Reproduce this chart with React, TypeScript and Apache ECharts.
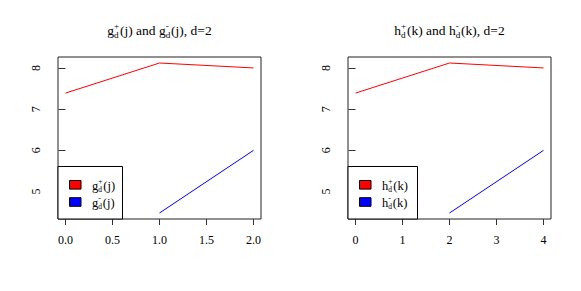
import React, { useEffect, useRef } from "react";
import * as echarts from "echarts";

// ---- data ----
const xJ = [0, 1, 2];
const xK = [0, 2, 4];
const plusVals = [7.39, 8.12, 8.0];
const minusVals: (number | null)[] = [null, 4.48, 6.0];
const xTicksJ = [0, 0.5, 1, 1.5, 2];
const xTicksK = [0, 1, 2, 3, 4];
const yTicks = [5, 6, 7, 8];

const RED = "#ff0000";
const BLUE = "#0000ff";
const FONT = "Liberation Serif";

type Seg = { t: string } | { sup: string; sub: string };

let ctx: CanvasRenderingContext2D | null = null;
function measure(text: string, size: number): number {
  if (!ctx) ctx = document.createElement("canvas").getContext("2d");
  if (!ctx) return text.length * size * 0.5;
  ctx.font = `${size}px ${FONT}`;
  return ctx.measureText(text).width;
}

function mathText(
  segs: Seg[],
  x: number,
  cy: number,
  size: number,
  center: boolean,
  supOff: number,
  subOff: number,
  scriptScale: number
): any[] {
  const ss = size * scriptScale;
  const widths = segs.map((s) =>
    "t" in s ? measure(s.t, size) : Math.max(measure(s.sup, ss), measure(s.sub, ss)) + 0.8
  );
  const total = widths.reduce((a, b) => a + b, 0);
  let cx = center ? x - total / 2 : x;
  const els: any[] = [];
  const mk = (text: string, px: number, py: number, sz: number) => ({
    type: "text",
    silent: true,
    style: {
      text,
      x: px,
      y: py,
      fontFamily: FONT,
      fontSize: sz,
      fill: "#000",
      textAlign: "left",
      align: "left",
      textVerticalAlign: "middle",
      verticalAlign: "middle",
    },
  });
  segs.forEach((s, i) => {
    if ("t" in s) {
      els.push(mk(s.t, cx, cy, size));
    } else {
      els.push(mk(s.sup, cx, cy - size * supOff, ss));
      els.push(mk(s.sub, cx, cy + size * subOff, ss));
    }
    cx += widths[i];
  });
  return els;
}

function rRange(vals: number[]): [number, number] {
  const lo = Math.min(...vals);
  const hi = Math.max(...vals);
  const e = (hi - lo) * 0.04;
  return [lo - e, hi + e];
}

export default function App() {
  const ref = useRef<HTMLDivElement>(null);
  useEffect(() => {
    if (!ref.current) return;
    const chart = echarts.init(ref.current, undefined, { renderer: "svg" });

    const grids = [
      { left: 58, top: 57, width: 203, height: 162 },
      { left: 348, top: 57, width: 203, height: 162 },
    ];
    const allY = [...plusVals, ...(minusVals.filter((v) => v != null) as number[])];
    const [yMin, yMax] = rRange(allY);
    const [xjMin, xjMax] = rRange(xJ);
    const [xkMin, xkMax] = rRange(xK);

    const xAxisBase = (min: number, max: number, ticks: number[], fmt: (v: number) => string, gi: number) => ({
      type: "value",
      gridIndex: gi,
      min,
      max,
      axisLine: { show: false },
      splitLine: { show: false },
      axisTick: { show: true, customValues: ticks, length: 6, lineStyle: { color: "#333" } },
      axisLabel: {
        customValues: ticks,
        formatter: fmt,
        margin: 15,
        fontFamily: FONT,
        fontSize: 12,
        color: "#000",
      },
    });
    const yAxisBase = (gi: number) => ({
      type: "value",
      gridIndex: gi,
      min: yMin,
      max: yMax,
      axisLine: { show: false },
      splitLine: { show: false },
      axisTick: { show: true, customValues: yTicks, length: 7, lineStyle: { color: "#333" } },
      axisLabel: {
        customValues: yTicks,
        formatter: (v: number) => String(v),
        rotate: 90,
        margin: 16,
        fontFamily: FONT,
        fontSize: 12,
        color: "#000",
      },
    });

    const graphics: any[] = [];
    const titles: Seg[][] = [
      [{ t: "g" }, { sup: "+", sub: "d" }, { t: "(j) and g" }, { sup: "-", sub: "d" }, { t: "(j), d=2" }],
      [{ t: "h" }, { sup: "+", sub: "d" }, { t: "(k) and h" }, { sup: "-", sub: "d" }, { t: "(k), d=2" }],
    ];
    const legendLabels: Seg[][][] = [
      [
        [{ t: "g" }, { sup: "+", sub: "d" }, { t: "(j)" }],
        [{ t: "g" }, { sup: "-", sub: "d" }, { t: "(j)" }],
      ],
      [
        [{ t: "h" }, { sup: "+", sub: "d" }, { t: "(k)" }],
        [{ t: "h" }, { sup: "-", sub: "d" }, { t: "(k)" }],
      ],
    ];
    const legendW = [64.5, 69.5];
    grids.forEach((g, gi) => {
      graphics.push(...mathText(titles[gi], g.left + g.width / 2, 30, 13.5, true, 0.33, 0.4, 0.68));
      const bottom = g.top + g.height;
      graphics.push({
        type: "rect",
        silent: true,
        shape: { x: g.left, y: bottom - 52.5, width: legendW[gi], height: 52.5 },
        style: { fill: "#fff", stroke: "#000", lineWidth: 1 },
        z: 10,
      });
      [RED, BLUE].forEach((c, i) => {
        graphics.push({
          type: "rect",
          silent: true,
          shape: { x: g.left + 11.5, y: bottom - 38.5 + i * 17.2, width: 11.5, height: 8.6 },
          style: { fill: c, stroke: "#000", lineWidth: 1 },
          z: 11,
        });
        mathText(legendLabels[gi][i], g.left + 34, bottom - 33.5 + i * 17, 12.5, false, 0.36, 0.34, 0.6).forEach(
          (e) => {
            e.z = 11;
            graphics.push(e);
          }
        );
      });
    });

    const seriesFor = (xs: number[], gi: number) => [
      {
        type: "line",
        xAxisIndex: gi,
        yAxisIndex: gi,
        data: xs.map((x, i) => [x, plusVals[i]]),
        showSymbol: false,
        lineStyle: { color: RED, width: 1 },
        itemStyle: { color: RED },
        z: 2,
      },
      {
        type: "line",
        xAxisIndex: gi,
        yAxisIndex: gi,
        data: xs.map((x, i) => [x, minusVals[i] == null ? "-" : minusVals[i]]),
        showSymbol: false,
        lineStyle: { color: BLUE, width: 1 },
        itemStyle: { color: BLUE },
        z: 2,
      },
    ];

    chart.setOption({
      animation: false,
      backgroundColor: "#fff",
      textStyle: { fontFamily: FONT },
      grid: grids.map((g) => ({
        ...g,
        show: true,
        borderColor: "#222",
        borderWidth: 1,
        backgroundColor: "transparent",
        containLabel: false,
      })),
      xAxis: [
        xAxisBase(xjMin, xjMax, xTicksJ, (v) => v.toFixed(1), 0),
        xAxisBase(xkMin, xkMax, xTicksK, (v) => String(v), 1),
      ],
      yAxis: [yAxisBase(0), yAxisBase(1)],
      series: [...seriesFor(xJ, 0), ...seriesFor(xK, 1)],
      graphic: { elements: graphics },
    });
    return () => chart.dispose();
  }, []);
  return <div ref={ref} style={{ width: 581, height: 291, position: "absolute", left: 0, top: 0 }} />;
}
